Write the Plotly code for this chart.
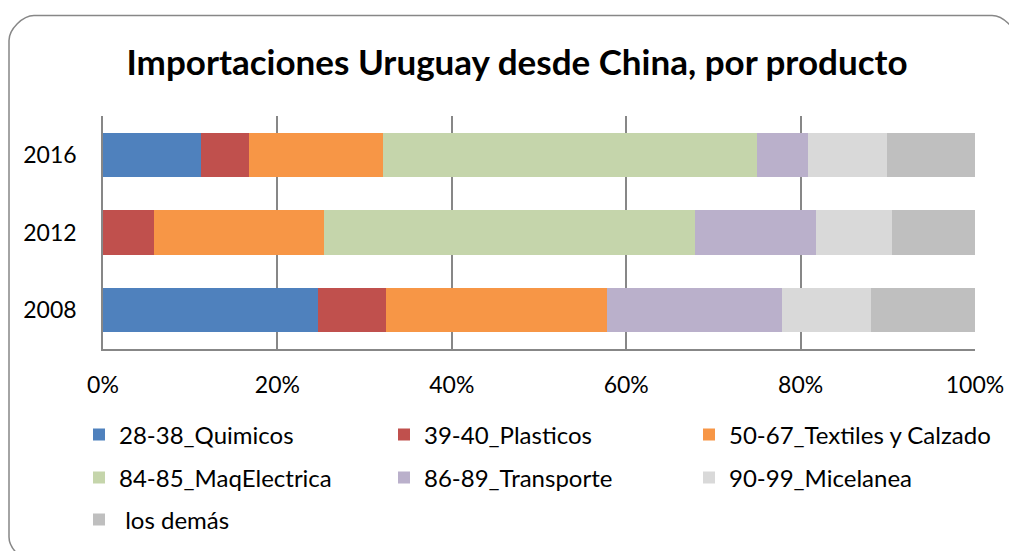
from plotly import graph_objects as go

# chart data (shares of imports, %)
years = ['2008', '2012', '2016']
quimicos = [24.7, 0.0, 11.2]
plasticos = [7.7, 5.9, 5.5]
textiles = [25.4, 19.5, 15.4]
maq_electrica = [0.0, 42.5, 42.9]
transporte = [20.1, 13.9, 5.9]
micelanea = [10.2, 8.7, 9.0]
los_demas = [11.9, 9.5, 10.1]
x_ticks = [0, 20, 40, 60, 80, 100]
x_tick_labels = ['0%', '20%', '40%', '60%', '80%', '100%']

series = [
    ('28-38_Quimicos', quimicos, '#4F81BD', 'legend'),
    ('39-40_Plasticos', plasticos, '#C0504D', 'legend'),
    ('50-67_Textiles y Calzado', textiles, '#F79646', 'legend'),
    ('84-85_MaqElectrica', maq_electrica, '#C5D5AB', 'legend2'),
    ('86-89_Transporte', transporte, '#BAB0CB', 'legend2'),
    ('90-99_Micelanea', micelanea, '#D9D9D9', 'legend2'),
    (' los demás', los_demas, '#BFBFBF', 'legend3'),
]

W, H = 1009, 551
L, R, T, B = 103, 34, 116, 202
PW, PH = W - L - R, H - T - B
FONT = 'Lato'
GRID = '#878787'


def px(x):
    return (x - L) / PW


def py(y):
    return (H - B - y) / PH


def rounded_rect(x0, y0, x1, y1, r):
    k = 0.45 * r
    pts = [
        'M {} {}'.format(px(x0 + r), py(y0)),
        'L {} {}'.format(px(x1 - r), py(y0)),
        'C {} {} {} {} {} {}'.format(px(x1 - r + k), py(y0), px(x1), py(y0 + r - k), px(x1), py(y0 + r)),
        'L {} {}'.format(px(x1), py(y1 - r)),
        'C {} {} {} {} {} {}'.format(px(x1), py(y1 - r + k), px(x1 - r + k), py(y1), px(x1 - r), py(y1)),
        'L {} {}'.format(px(x0 + r), py(y1)),
        'C {} {} {} {} {} {}'.format(px(x0 + r - k), py(y1), px(x0), py(y1 - r + k), px(x0), py(y1 - r)),
        'L {} {}'.format(px(x0), py(y0 + r)),
        'C {} {} {} {} {} {}'.format(px(x0), py(y0 + r - k), px(x0 + r - k), py(y0), px(x0 + r), py(y0)),
        'Z',
    ]
    return ' '.join(pts)


data = []
for name, vals, color, leg in series:
    data.append(go.Bar(
        y=years,
        x=vals,
        name=name,
        orientation='h',
        marker=dict(color=color, line=dict(width=0)),
        legend=leg,
        hoverinfo='skip'
    ))


def legend_row(y_px):
    return dict(
        orientation='h',
        x=px(79),
        xanchor='left',
        y=py(y_px),
        yanchor='middle',
        entrywidth=260,
        entrywidthmode='pixels',
        traceorder='normal',
        font=dict(family=FONT, size=24, color='#000000'),
        bgcolor='rgba(0,0,0,0)',
    )


layout = go.Layout(
    width=W,
    height=H,
    margin=dict(l=L, r=R, t=T, b=B, autoexpand=False),
    paper_bgcolor='white',
    plot_bgcolor='white',
    barmode='stack',
    barnorm='percent',
    bargap=0.43,
    font=dict(family=FONT, size=23, color='#000000'),
    title=dict(
        text='<b>Importaciones Uruguay desde China, por producto</b>',
        font=dict(family=FONT, size=35, color='#000000'),
        xref='container', x=517 / W, xanchor='center',
        yref='container', y=1 - 63 / H, yanchor='middle',
    ),
    xaxis=dict(
        range=[0, 100],
        tickmode='array',
        tickvals=x_ticks,
        ticktext=x_tick_labels,
        showgrid=True,
        gridcolor=GRID,
        gridwidth=1.5,
        zeroline=False,
        showline=True,
        linecolor=GRID,
        linewidth=1.5,
        ticks='',
        ticklabelstandoff=15,
        tickfont=dict(family=FONT, size=23),
    ),
    yaxis=dict(
        categoryorder='array',
        categoryarray=years,
        showgrid=False,
        zeroline=False,
        showline=True,
        linecolor=GRID,
        linewidth=1.5,
        ticks='',
        ticklabelstandoff=20,
        tickfont=dict(family=FONT, size=23),
    ),
    legend=legend_row(435),
    legend2=legend_row(478),
    legend3=legend_row(520),
    shapes=[dict(
        type='path',
        xref='paper', yref='paper',
        path=rounded_rect(9, 15.5, 1017, 562, 25),
        line=dict(color='#878787', width=1.5),
        fillcolor='rgba(0,0,0,0)',
        layer='below',
    )],
)

fig = go.Figure(data, layout)
# page has a default 8px body margin; drop it so the figure sits at the window origin
fig.write_html('out.html', config={'displayModeBar': False},
               post_script="document.body.style.margin='0';")
